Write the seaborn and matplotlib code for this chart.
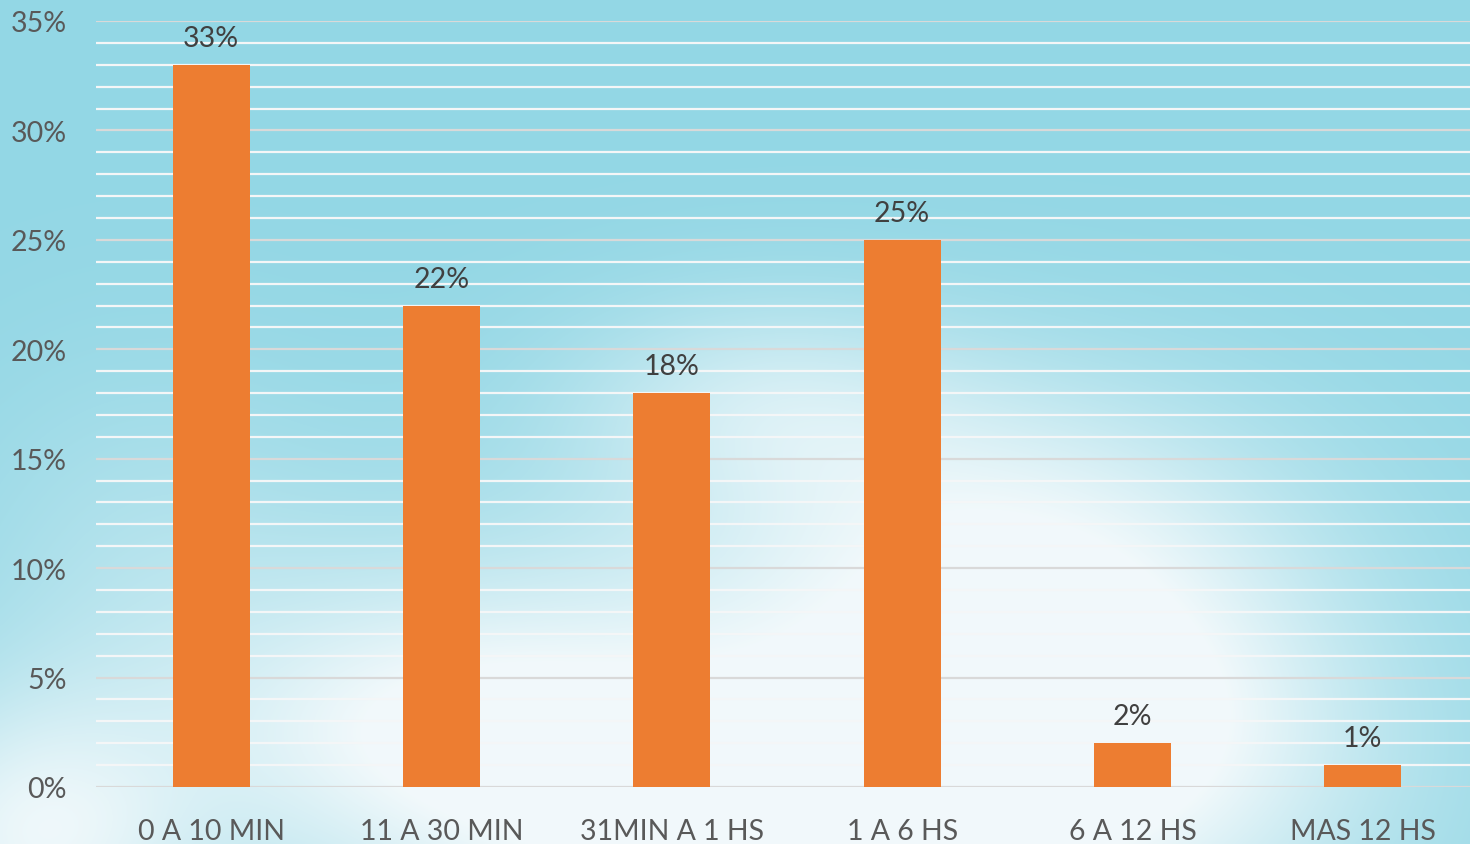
import numpy as np
import pandas as pd
import matplotlib
matplotlib.use("Agg")
import matplotlib.pyplot as plt
import seaborn as sns

# Response-time categories and share of answers (%)
categories = ["0 A 10 MIN", "11 A 30 MIN", "31MIN A 1 HS", "1 A 6 HS", "6 A 12 HS", "MAS 12 HS"]
shares = [33, 22, 18, 25, 2, 1]
y_ticks = [0, 5, 10, 15, 20, 25, 30, 35]

df = pd.DataFrame({"rango": categories, "pct": shares})

sns.set_theme(style="white")
plt.rcParams["font.family"] = ["Lato", "DejaVu Sans"]

W, H = 1470, 845
fig = plt.figure(figsize=(W / 100, H / 100), dpi=100)

# Soft watercolor-like backdrop: teal wash fading to white in the lower middle
bg_ax = fig.add_axes([0, 0, 1, 1], zorder=0)
yy, xx = np.mgrid[0:H, 0:W].astype(float)

def blob(cx, cy, sx, sy, a):
    return a * np.exp(-(((xx - cx) / sx) ** 2 + ((yy - cy) / sy) ** 2))

w = (blob(800, 800, 480, 260, 1.1) + blob(1020, 520, 280, 160, 0.6)
     + blob(30, 840, 170, 150, 0.8) + blob(760, 400, 200, 110, 0.45)
     + blob(420, 720, 230, 140, 0.5) + blob(1150, 720, 220, 160, 0.5)
     + blob(150, 560, 200, 200, 0.25))
w = np.clip(w, 0, 0.96)
blue = np.array([147, 215, 229]) / 255.0
white = np.array([245, 250, 252]) / 255.0
img = blue[None, None, :] * (1 - w[..., None]) + white[None, None, :] * w[..., None]
bg_ax.imshow(img, aspect="auto", extent=[0, 1, 0, 1], origin="upper")
bg_ax.set_axis_off()

ax = fig.add_axes([96 / W, 57 / H, 1382 / W, 766 / H], zorder=1)
ax.set_facecolor("none")

sns.barplot(data=df, x="rango", y="pct", color="#ED7D31", width=0.335,
            saturation=1, linewidth=0, edgecolor="none", ax=ax, zorder=3)

ax.set_ylim(0, 35)
ax.set_xlim(-0.5, len(categories) - 0.5)
ax.set_yticks(y_ticks)
ax.set_yticklabels([f"{t}%" for t in y_ticks])
ax.set_yticks(np.arange(0, 36, 1), minor=True)
ax.grid(False)
ax.grid(which="minor", axis="y", color="#F4F6F7", linewidth=1.6, zorder=1)
ax.grid(which="major", axis="y", color="#D9D9D9", linewidth=1.6, zorder=2)
ax.set_axisbelow(True)
for s in ax.spines.values():
    s.set_visible(False)

ax.tick_params(axis="y", which="both", length=0, pad=21, labelsize=20.5, labelcolor="#595959")
ax.tick_params(axis="x", length=0, pad=22.5, labelsize=20.5, labelcolor="#595959")
ax.set_xlabel("")
ax.set_ylabel("")

for i, v in enumerate(shares):
    ax.annotate(f"{v}%", (i, v), xytext=(0, 10), textcoords="offset points",
                ha="center", va="bottom", fontsize=20.5, color="#404040", zorder=4)

fig.savefig("out.png", dpi=100)
